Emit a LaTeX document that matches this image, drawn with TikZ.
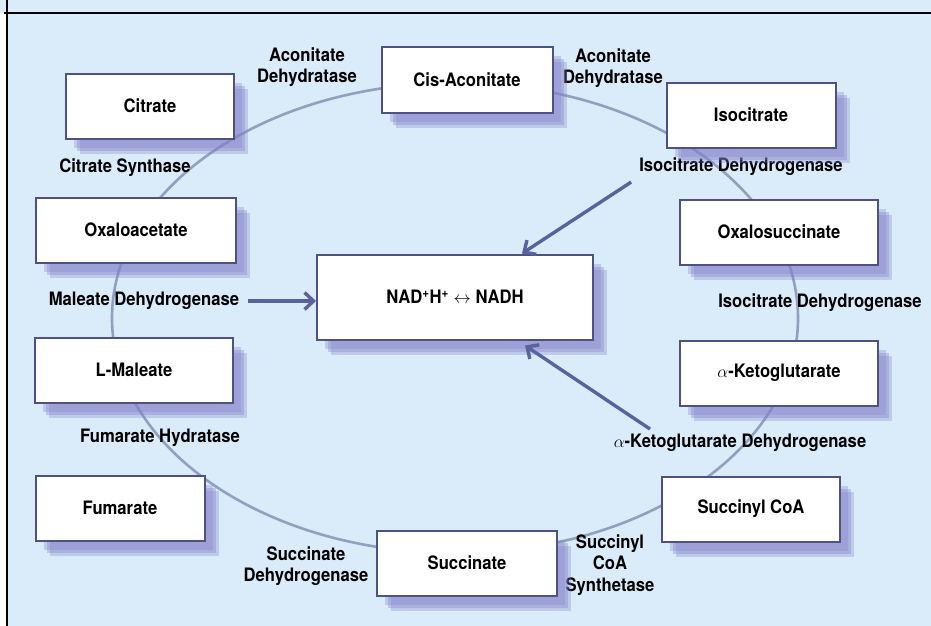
\documentclass[tikz,border=0pt]{standalone}
\usepackage{fontspec}
\setmainfont[FakeStretch=0.9]{TeX Gyre Heros}
\usetikzlibrary{positioning, shapes.geometric, arrows.meta, shadows}
\definecolor{paleSky}{RGB}{218,235,250}
\definecolor{boxEdge}{RGB}{78,82,130}
\definecolor{boxShade}{RGB}{130,128,200}
\definecolor{ringGray}{RGB}{146,160,192}
\definecolor{arrowBlue}{RGB}{88,98,158}
\newcommand{\cycFont}{\fontsize{18.5}{21.5}\selectfont\bfseries}
\tikzstyle{compound}=[draw=boxEdge,line width=2pt,fill=white,minimum height=65pt,inner sep=0pt,font=\cycFont,
  general shadow={fill=boxShade,opacity=0.3,shadow xshift=8pt,shadow yshift=-9pt},
  general shadow={fill=boxShade,opacity=0.35,shadow xshift=11pt,shadow yshift=-12pt},
  general shadow={fill=boxShade,opacity=0.3,shadow xshift=14pt,shadow yshift=-15pt}]
\tikzstyle{enzyme}=[font=\cycFont,align=center,inner sep=1pt]
\tikzstyle{ringLine}=[draw=ringGray,line width=2.6pt,ellipse,inner sep=0pt]
\tikzstyle{nadTransfer}=[draw=arrowBlue,line width=3.4pt,-{Straight Barb[length=9pt,width=17pt]}]

\begin{document}
\begin{tikzpicture}[x=1pt,y=-1pt]
        \useasboundingbox (0,0) rectangle (931,626);
        \fill[paleSky] (0,0) rectangle (931,626);
        \fill[white] (0,13) rectangle (7,626);
        \fill[fill=paleSky] (8,0) rectangle (931,12.5);
        \draw[line width=1.8pt] (4,13) -- (931,13);
        \draw[line width=1.8pt] (7,0) -- (7,626);

        \node[ringLine, minimum width=686pt, minimum height=470pt] (ring) at (455,318) {};

        \node[enzyme] (acoL) at (307,67) {Aconitate\\Dehydratase};
        \node[enzyme] (acoR) at (613,68) {Aconitate\\Dehydratase};
        \node[enzyme] (cs) at (125,168) {Citrate Synthase};
        \node[enzyme] (idhA) at (741,167) {Isocitrate Dehydrogenase};
        \node[enzyme] (idhB) at (820,303) {Isocitrate Dehydrogenase};
        \node[enzyme] (mdh) at (144,301) {Maleate Dehydrogenase};
        \node[enzyme] (fh) at (160,438) {Fumarate Hydratase};
        \node[enzyme] (akgdh) at (740,443) {$\alpha$-Ketoglutarate Dehydrogenase};
        \node[enzyme] (sdh) at (306,566) {Succinate\\Dehydrogenase};
        \node[enzyme] (scs) at (610,565) {Succinyl\\CoA\\Synthetase};

        \node[compound, minimum width=168pt] (cit) at (150,106) {Citrate};
        \node[compound, minimum width=171pt] (cis) at (467,80) {Cis-Aconitate};
        \node[compound, minimum width=169pt] (iso) at (751,115) {Isocitrate};
        \node[compound, minimum width=198pt] (oxs) at (779,232) {Oxalosuccinate};
        \node[compound, minimum width=198pt] (akg) at (779,373) {$\alpha$-Ketoglutarate};
        \node[compound, minimum width=178pt] (suc) at (751,509) {Succinyl CoA};
        \node[compound, minimum width=180pt] (sct) at (467,563) {Succinate};
        \node[compound, minimum width=169pt] (fum) at (120,508) {Fumarate};
        \node[compound, minimum width=198pt] (mal) at (134,370) {L-Maleate};
        \node[compound, minimum width=200pt] (oaa) at (136,230) {Oxaloacetate};
        \node[compound, minimum width=276pt, minimum height=85pt] (nad) at (455,297) {NAD\textsuperscript{+}H\textsuperscript{+} $\leftrightarrow$\ NADH};

        \draw[nadTransfer] ([xshift=-7pt, yshift=-5pt]idhA.south west) -- ([xshift=67pt]nad.north);
        \draw[nadTransfer] ([xshift=8pt]mdh.east) -- (nad.west |- mdh.east);
        \draw[nadTransfer] ([xshift=-90pt, yshift=4pt]akgdh.north) -- ([xshift=70pt, yshift=-5pt]nad.south);

\end{tikzpicture}
\end{document}
